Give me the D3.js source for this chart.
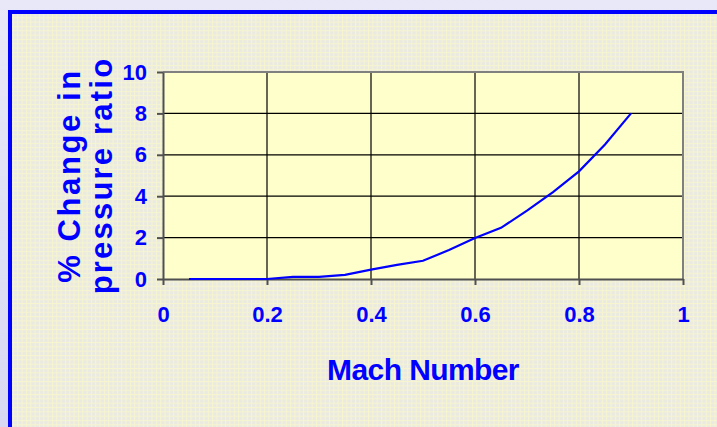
<!DOCTYPE html>
<html>
<head>
    <script src="https://d3js.org/d3.v7.min.js"></script>
    <style>
        body { margin: 0; padding: 0; background: #dcdcf4; overflow: hidden; }
        svg { display: block; }
        .tick-label { fill: #0000ff; font-family: "Liberation Sans", Arial, sans-serif; font-weight: bold; font-size: 22px; }
        .title { fill: #0000ff; font-family: "Liberation Sans", Arial, sans-serif; font-weight: bold; }
    </style>
</head>
<body>
    <svg id="chart"></svg>
    <script>
        // Mach number vs % change in pressure ratio
        const mach = [0.05, 0.1, 0.15, 0.2, 0.25, 0.3, 0.35, 0.4, 0.45, 0.5, 0.55, 0.6, 0.65, 0.7, 0.75, 0.8, 0.85, 0.9];
        const pctChange = [0, 0, 0, 0, 0.1, 0.1, 0.2, 0.45, 0.68, 0.88, 1.4, 1.98, 2.47, 3.3, 4.2, 5.2, 6.5, 8.0];
        const xTicks = [0, 0.2, 0.4, 0.6, 0.8, 1];
        const yTicks = [0, 2, 4, 6, 8, 10];

        const W = 717, H = 427;
        const plot = { left: 163, top: 72, right: 683, bottom: 279 };

        const svg = d3.select('#chart').attr('width', W).attr('height', H);

        // background
        const defs = svg.append('defs');
        const grad = defs.append('linearGradient').attr('id', 'bg').attr('x1', 0).attr('y1', 0).attr('x2', 0).attr('y2', 1);
        grad.append('stop').attr('offset', '0%').attr('stop-color', '#e8e8f8');
        grad.append('stop').attr('offset', '100%').attr('stop-color', '#d8d8f2');
        const pat = defs.append('pattern').attr('id', 'mesh')
            .attr('width', 4.33).attr('height', 4.33).attr('patternUnits', 'userSpaceOnUse');
        pat.append('rect').attr('width', 4.33).attr('height', 4.33).attr('fill', '#ebeae2');
        pat.append('rect').attr('width', 1).attr('height', 4.33).attr('fill', '#f6f5cf');
        pat.append('rect').attr('width', 4.33).attr('height', 1).attr('fill', '#f6f5cf');

        svg.append('rect').attr('width', W).attr('height', H).attr('fill', 'url(#bg)');
        svg.append('rect').attr('x', 10).attr('y', 12).attr('width', 800).attr('height', 500)
            .attr('fill', 'url(#mesh)').attr('stroke', '#0000ff').attr('stroke-width', 4);

        const x = d3.scaleLinear().domain([0, 1]).range([plot.left, plot.right]);
        const y = d3.scaleLinear().domain([0, 10]).range([plot.bottom, plot.top]);

        // plot area
        svg.append('rect')
            .attr('x', plot.left).attr('y', plot.top)
            .attr('width', plot.right - plot.left).attr('height', plot.bottom - plot.top)
            .attr('fill', '#ffffcc');

        // gridlines
        svg.append('g').selectAll('line').data(yTicks.slice(1, -1)).enter().append('line')
            .attr('x1', plot.left).attr('x2', plot.right)
            .attr('y1', d => y(d)).attr('y2', d => y(d))
            .attr('stroke', '#000').attr('stroke-width', 1.2);
        svg.append('g').selectAll('line').data(xTicks.slice(1, -1)).enter().append('line')
            .attr('y1', plot.top).attr('y2', plot.bottom)
            .attr('x1', d => x(d)).attr('x2', d => x(d))
            .attr('stroke', '#000').attr('stroke-width', 1.2);

        // top/right border
        svg.append('path')
            .attr('d', `M${plot.left},${plot.top}H${plot.right}V${plot.bottom}`)
            .attr('fill', 'none').attr('stroke', '#808080').attr('stroke-width', 2);

        // axes
        const yAxis = svg.append('g').attr('transform', `translate(${plot.left},0)`)
            .call(d3.axisLeft(y).tickValues(yTicks).tickSize(6).tickSizeOuter(0).tickFormat(d3.format('d')).tickPadding(10));
        const xAxis = svg.append('g').attr('transform', `translate(0,${plot.bottom})`)
            .call(d3.axisBottom(x).tickValues(xTicks).tickSize(6).tickSizeOuter(0).tickFormat(d => d === 0 || d === 1 ? d : d3.format('.1f')(d)).tickPadding(21));
        [xAxis, yAxis].forEach(a => {
            a.attr('font-size', null).attr('font-family', null);
            a.select('.domain').attr('stroke', '#505050').attr('stroke-width', 2);
            a.selectAll('.tick line').attr('stroke', '#505050').attr('stroke-width', 2);
            a.selectAll('.tick text').attr('class', 'tick-label').attr('fill', null);
        });

        // series
        svg.append('path')
            .datum(mach.map((m, i) => [m, pctChange[i]]))
            .attr('d', d3.line().x(d => x(d[0])).y(d => y(d[1])))
            .attr('fill', 'none').attr('stroke', '#0000ff').attr('stroke-width', 2.2);

        // titles
        svg.append('text').attr('class', 'title')
            .attr('x', (plot.left + plot.right) / 2).attr('y', 380)
            .attr('text-anchor', 'middle').attr('font-size', 30)
            .attr('letter-spacing', -0.6)
            .text('Mach Number');

        const cy = (plot.top + plot.bottom) / 2;
        const yt = svg.append('text').attr('class', 'title')
            .attr('transform', `translate(0,${cy}) rotate(-90)`)
            .attr('text-anchor', 'middle').attr('font-size', 31);
        yt.append('tspan').attr('x', 0).attr('y', 80).attr('letter-spacing', 2.6).text('% Change in');
        yt.append('tspan').attr('x', 0).attr('y', 112).attr('letter-spacing', 2.2).text('pressure ratio');
    </script>
</body>
</html>
